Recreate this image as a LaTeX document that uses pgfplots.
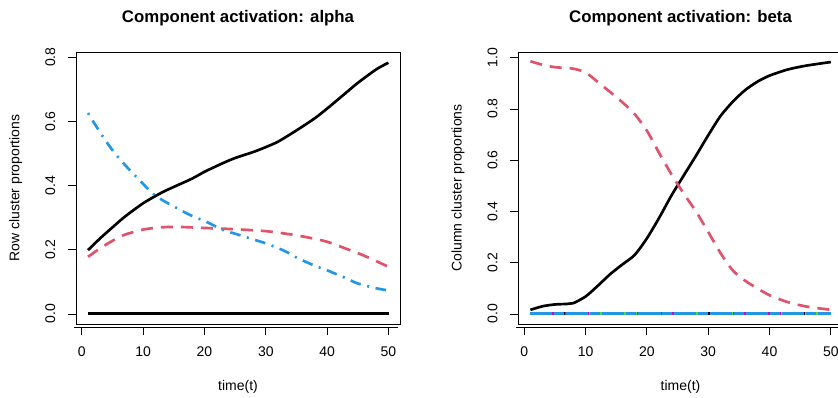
\documentclass[border=0pt]{standalone}
\usepackage{pgfplots}
\pgfplotsset{compat=1.18}
\usepackage{fontspec}
\setmainfont{Liberation Sans}
\definecolor{rred}{HTML}{DF536B}
\definecolor{rgreen}{HTML}{61D04F}
\definecolor{rblue}{HTML}{2297E6}
\definecolor{rmag}{HTML}{CD0BBC}
\pgfplotsset{rstyle/.style={
  scale only axis, width=243.3pt, height=204pt, anchor=south west,
  xmin=-0.96, xmax=51.96, xtick={0,10,20,30,40,50},
  tick align=outside, major tick length=6pt,
  tick style={black, line width=0.6pt},
  xtick style={yshift=-2.25pt},
  axis line style={line width=0.7pt},
  xtick pos=lower, ytick pos=left,
  ticklabel style={font=\fontsize{10.5}{12}\selectfont},
  /pgf/number format/assume math mode=true,
  xticklabel style={anchor=base}, xticklabel shift=18.5pt,
  yticklabel style={rotate=90, anchor=base, /pgf/number format/fixed, /pgf/number format/fixed zerofill, /pgf/number format/precision=1},
  yticklabel shift=9.75pt,
  clip mode=individual,
  every axis plot/.append style={line width=2pt, smooth, tension=0.45},
}}
\begin{document}
\begin{tikzpicture}
\path[use as bounding box] (0,0) rectangle (628.5pt,297.75pt);
% ---------------- left panel ----------------
\begin{axis}[rstyle, at={(57pt,54.75pt)}, ymin=-0.0314, ymax=0.8164, ytick={0,0.2,0.4,0.6,0.8}]
\addplot[rred, no marks, line width=2.3pt] coordinates {(1,0) (50,0)};
\addplot[rgreen, no marks, line width=2.3pt] coordinates {(1,0) (50,0)};
\addplot[black, no marks, line width=2.3pt] coordinates {(1,0) (50,0)};
\addplot[black, no marks] coordinates {
(1,0.199) (3,0.236) (5,0.270) (7,0.303) (10,0.345) (13,0.378) (15,0.396) (18,0.422) (20,0.443) (23,0.470) (25,0.486) (28,0.505) (30,0.520) (32,0.537) (35,0.572) (38,0.610) (40,0.640) (43,0.688) (45,0.720) (48,0.762) (50,0.783)};
\addplot[rred, no marks, dash pattern=on 9pt off 6pt] coordinates {
(1,0.178) (3,0.205) (5,0.228) (7,0.247) (10,0.263) (13,0.270) (16,0.271) (20,0.268) (25,0.264) (30,0.258) (34,0.248) (37,0.238) (40,0.225) (43,0.204) (46,0.182) (50,0.147)};
\addplot[rblue, no marks, dash pattern=on 1.5pt off 5pt on 8pt off 5pt] coordinates {
(1,0.626) (3,0.565) (5,0.510) (7,0.465) (10,0.405) (12,0.368) (15,0.335) (18,0.305) (20,0.290) (23,0.262) (25,0.250) (28,0.232) (30,0.220) (33,0.197) (35,0.176) (38,0.150) (40,0.136) (43,0.112) (45,0.095) (48,0.080) (50,0.073)};
\draw[line width=0.7pt] (rel axis cs:0,0) ++(-1.5pt,-2.25pt) -- ++(243.3pt,0pt);
\end{axis}
% ---------------- right panel ----------------
\begin{axis}[rstyle, at={(388.8pt,54.75pt)}, ymin=-0.0393, ymax=1.0222, ytick={0,0.2,0.4,0.6,0.8,1.0}]
\addplot[rgreen, no marks, line width=2.3pt] coordinates {(1,0) (50,0)};
\addplot[rmag, no marks, line width=2.3pt, dash pattern=on 4pt off 4pt] coordinates {(1,0) (50,0)};
\addplot[black, no marks, line width=2.3pt, dash pattern=on 2pt off 10pt] coordinates {(1,0) (50,0)};
\addplot[rblue, no marks, line width=2.3pt, dash pattern=on 16pt off 2pt on 7pt off 2pt] coordinates {(1,0) (50,0)};
\addplot[black, no marks] coordinates {
(1,0.016) (3,0.030) (5,0.037) (7,0.039) (8,0.042) (10,0.068) (12,0.110) (14,0.155) (16,0.193) (18,0.230) (20,0.295) (22,0.375) (24,0.462) (26,0.540) (28,0.617) (30,0.697) (32,0.772) (34,0.828) (36,0.873) (38,0.906) (40,0.930) (43,0.954) (46,0.969) (50,0.983)};
\addplot[rred, no marks, dash pattern=on 9pt off 6pt] coordinates {
(1,0.986) (3,0.972) (5,0.963) (8,0.957) (10,0.942) (12,0.905) (14,0.866) (16,0.826) (18,0.780) (20,0.715) (22,0.628) (24,0.545) (26,0.470) (28,0.400) (30,0.320) (32,0.238) (34,0.170) (36,0.130) (38,0.100) (40,0.073) (43,0.046) (46,0.029) (50,0.016)};
\draw[line width=0.7pt] (rel axis cs:0,0) ++(-1.5pt,-2.25pt) -- ++(243.3pt,0pt);
\end{axis}
% ---------------- text ----------------
\node[anchor=base, font=\bfseries\fontsize{12.6}{14}\selectfont, inner sep=0] at (178.5pt,280.9pt) {Component activation: alpha};
\node[anchor=base, font=\bfseries\fontsize{12.6}{14}\selectfont, inner sep=0] at (510.4pt,280.9pt) {Component activation: beta};
\node[anchor=base, font=\fontsize{10.5}{12}\selectfont, inner sep=0] at (178.5pt,5.25pt) {time(t)};
\node[anchor=base, font=\fontsize{10.5}{12}\selectfont, inner sep=0] at (510.4pt,5.25pt) {time(t)};
\node[anchor=base, rotate=90, font=\fontsize{10.5}{12}\selectfont, inner sep=0] at (14.5pt,156.75pt) {Row cluster proportions};
\node[anchor=base, rotate=90, font=\fontsize{10.5}{12}\selectfont, inner sep=0] at (346.3pt,156.75pt) {Column cluster proportions};
\end{tikzpicture}
\end{document}
